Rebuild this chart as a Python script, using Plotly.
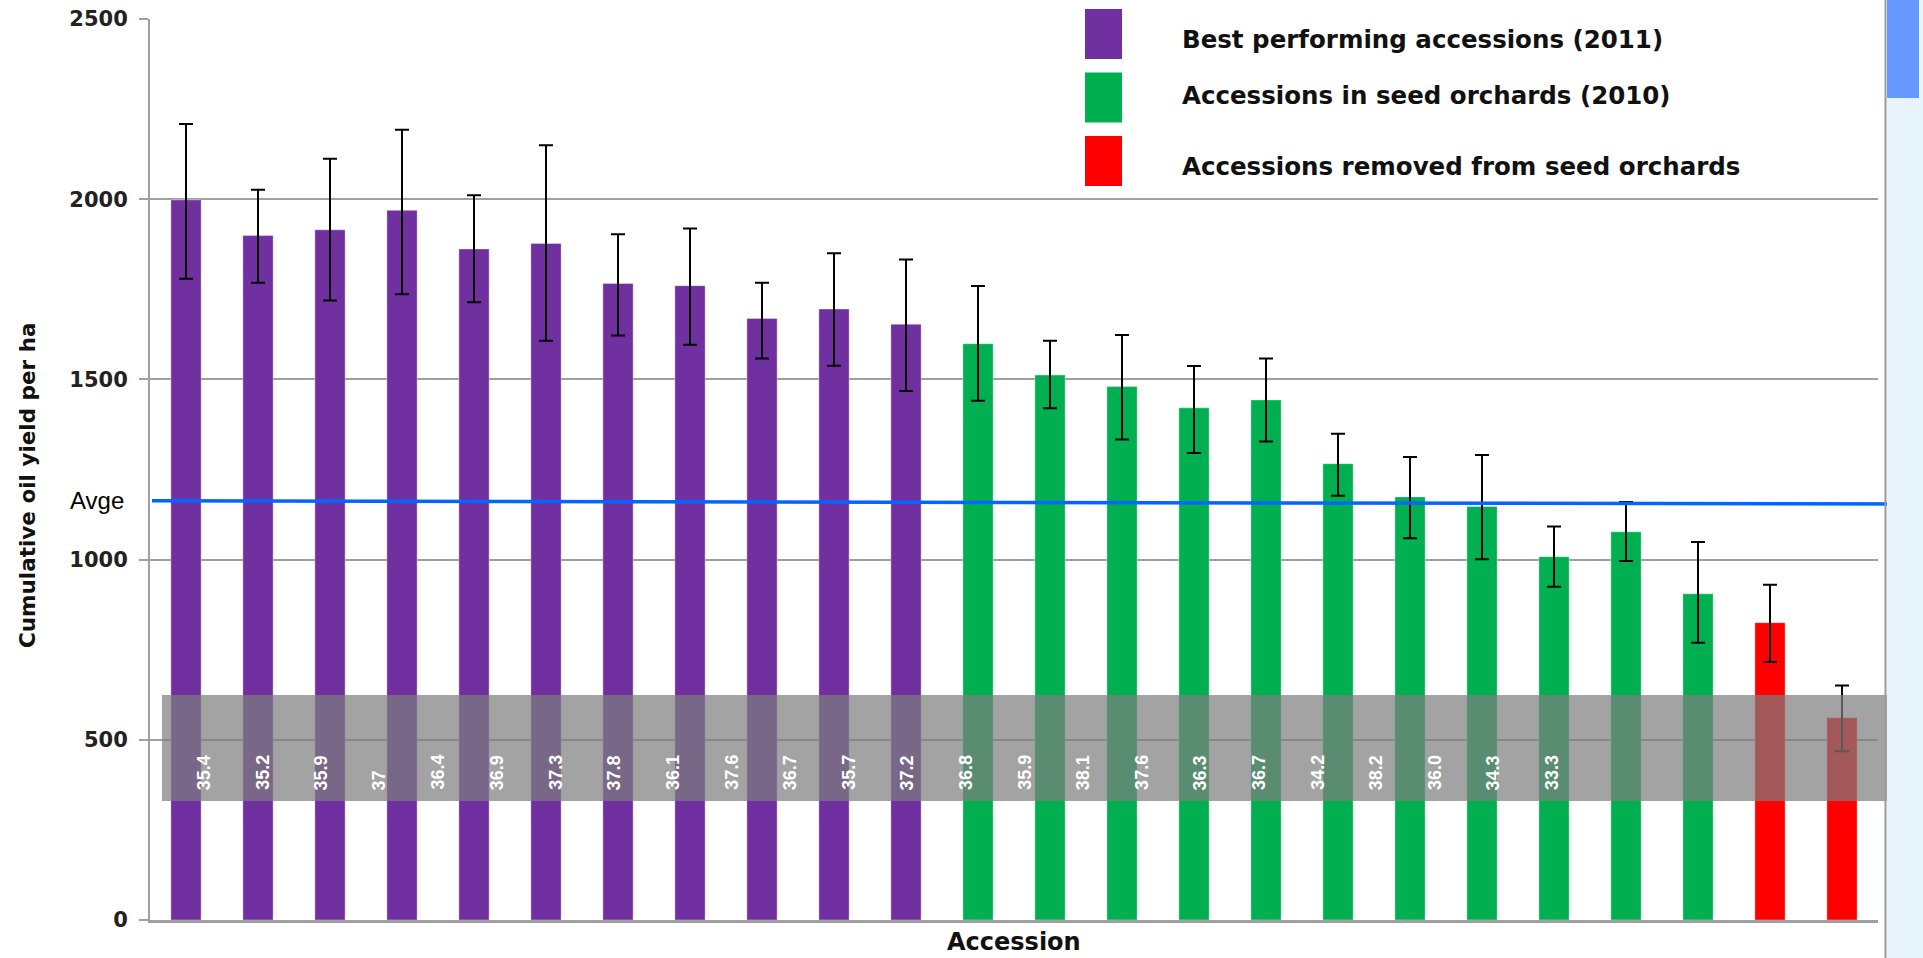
import plotly.graph_objects as go

# Cumulative oil yield per hectare for each accession, ranked within group
groups = ["best"] * 11 + ["orchard"] * 11 + ["removed"] * 2
oil_yield = [1998, 1899, 1915, 1969, 1862, 1877, 1766, 1760, 1669, 1695, 1653,
             1599, 1512, 1480, 1421, 1443, 1266, 1174, 1147, 1008, 1077, 905,
             825, 561]
err_upper = [2209, 2026, 2112, 2193, 2011, 2150, 1903, 1919, 1768, 1850, 1833,
             1759, 1607, 1623, 1537, 1558, 1349, 1285, 1290, 1092, 1160, 1049,
             930, 651]
err_lower = [1779, 1768, 1719, 1736, 1714, 1607, 1622, 1596, 1558, 1538, 1468,
             1441, 1420, 1333, 1296, 1328, 1177, 1059, 1001, 925, 996, 769,
             716, 468]

# Oil content (%) strip
oil_content = ["35.4", "35.2", "35.9", "37", "36.4", "36.9", "37.3", "37.8",
               "36.1", "37.6", "36.7", "35.7", "37.2", "36.8", "35.9", "38.1",
               "37.6", "36.3", "36.7", "34.2", "38.2", "36.0", "34.3", "33.3"]

# Average yield line (start / end level)
avg_start, avg_end = 1163, 1154

y_ticks = [0, 500, 1000, 1500, 2000, 2500]

group_colors = {"best": "#7030A0", "orchard": "#00B050", "removed": "#FF0000"}
legend_items = [("best", "Best performing accessions (2011)"),
                ("orchard", "Accessions in seed orchards (2010)"),
                ("removed", "Accessions removed from seed orchards")]

accession = list(range(len(oil_yield)))
plus = [u - v for u, v in zip(err_upper, oil_yield)]
minus = [v - l for v, l in zip(oil_yield, err_lower)]

fig = go.Figure()
fig.add_trace(go.Bar(
    x=accession, y=oil_yield,
    marker=dict(color=[group_colors[g] for g in groups],
                line=dict(color="rgba(255,255,255,0.35)", width=1)),
    error_y=dict(type="data", symmetric=False, array=plus, arrayminus=minus,
                 color="black", thickness=2, width=7),
    width=0.42, showlegend=False, hoverinfo="y",
))

# Plot geometry helpers (pixel -> paper)
L, R, T, B = 150, 1878, 19, 920
def px(p):
    return (p - L) / (R - L)
def py(p):
    return (B - p) / (B - T)

shapes = []
# grey strip holding the oil-content values
shapes.append(dict(type="rect", xref="paper", yref="paper",
                   x0=px(162), x1=px(1905), y0=py(801), y1=py(695),
                   fillcolor="rgba(126,126,126,0.71)", line=dict(width=0),
                   layer="above"))
# average line
shapes.append(dict(type="line", xref="paper", yref="y",
                   x0=px(152), x1=px(1923), y0=avg_start, y1=avg_end,
                   line=dict(color="#0066FF", width=3.5), layer="above"))
# legend swatches
for i, (key, _) in enumerate(legend_items):
    top = 9 + i * 63.5
    shapes.append(dict(type="rect", xref="paper", yref="paper",
                       x0=px(1085), x1=px(1122), y0=py(top + 50), y1=py(top),
                       fillcolor=group_colors[key], line=dict(width=0),
                       layer="above"))
# window border and scrollbar
shapes.append(dict(type="rect", xref="paper", yref="paper",
                   x0=px(1887), x1=px(1923), y0=py(958), y1=py(0),
                   fillcolor="#E8F4FC", line=dict(width=0), layer="above"))
shapes.append(dict(type="rect", xref="paper", yref="paper",
                   x0=px(1887), x1=px(1919), y0=py(98), y1=py(0),
                   fillcolor="#6699FF", line=dict(width=0), layer="above"))
shapes.append(dict(type="line", xref="paper", yref="paper",
                   x0=px(1885.5), x1=px(1885.5), y0=py(958), y1=py(0),
                   line=dict(color="#9C9C9C", width=2), layer="above"))

annotations = []
for i, val in enumerate(oil_content):
    annotations.append(dict(
        xref="x2", yref="y", x=i, y=355, yanchor="bottom", xanchor="center",
        text="<b>%s</b>" % val, textangle=-90, showarrow=False,
        font=dict(family="Liberation Sans, Arial", size=18, color="white")))

title_font = "DejaVu Sans"
legend_y = [39, 96, 166]
for (key, label), yy in zip(legend_items, legend_y):
    annotations.append(dict(
        xref="paper", yref="paper", x=px(1180), y=py(yy),
        xanchor="left", yanchor="middle", text="<b>%s</b>" % label,
        showarrow=False,
        font=dict(family=title_font, size=24.5, color="#111111")))

annotations.append(dict(
    xref="paper", yref="paper", x=px(126), y=py(501), xanchor="right",
    yanchor="middle", text="Avge", showarrow=False,
    font=dict(family="Liberation Sans, Arial", size=24, color="black")))
annotations.append(dict(
    xref="paper", yref="paper", x=px(27), y=py(486), xanchor="center",
    yanchor="middle", text="<b>Cumulative oil yield per ha</b>",
    textangle=-90, showarrow=False,
    font=dict(family=title_font, size=21.5, color="#111111")))
annotations.append(dict(
    xref="paper", yref="paper", x=px(1014), y=py(942), xanchor="center",
    yanchor="middle", text="<b>Accession</b>", showarrow=False,
    font=dict(family=title_font, size=24, color="#111111")))

fig.update_layout(
    width=1923, height=958,
    margin=dict(l=L, r=1923 - R, t=T, b=958 - B, pad=0, autoexpand=False),
    paper_bgcolor="white", plot_bgcolor="white",
    bargap=0.58,
    shapes=shapes, annotations=annotations,
    xaxis=dict(range=[-0.5, len(oil_yield) - 0.5], showticklabels=False,
               ticks="", showgrid=False, zeroline=False, automargin=False,
               showline=True, linecolor="#A0A0A0", linewidth=3),
    xaxis2=dict(overlaying="x", range=[-0.915, 28.57], visible=False),
    yaxis=dict(range=[0, 2500], tickvals=y_ticks, automargin=False,
               showgrid=True, gridcolor="#A0A0A0", gridwidth=1.5,
               zeroline=False, showline=True, linecolor="#A0A0A0", linewidth=2,
               ticks="outside", ticklen=9, tickcolor="#A0A0A0", tickwidth=1.5,
               ticklabelstandoff=7,
               tickfont=dict(family="DejaVu Sans", size=21, color="#222222",
                             weight=600)),
    showlegend=False,
)

fig.write_html("out.html")
